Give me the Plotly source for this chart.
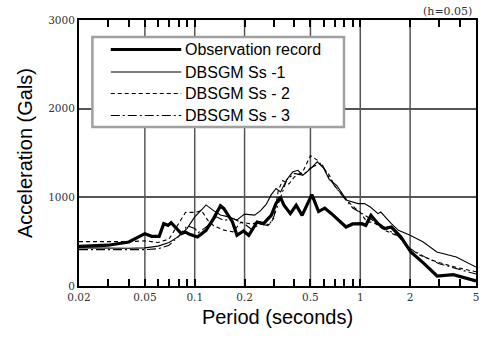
import plotly.graph_objects as go
import numpy as np

# ---------------- data ----------------
obs_T = [0.02, 0.03, 0.04, 0.05, 0.055, 0.061, 0.065, 0.069, 0.072, 0.076, 0.083, 0.088,
         0.093, 0.104, 0.117, 0.13, 0.143, 0.15, 0.169, 0.18, 0.197, 0.212, 0.238, 0.26,
         0.29, 0.31, 0.33, 0.346, 0.378, 0.41, 0.445, 0.51, 0.56, 0.61, 0.67, 0.82, 0.9,
         1.02, 1.08, 1.16, 1.28, 1.4, 1.54, 1.76, 2.02, 2.43, 2.91, 3.65, 4.2, 5.0]
obs_A = [448, 460, 496, 590, 560, 560, 703, 684, 714, 665, 590, 609,
         583, 552, 628, 760, 905, 872, 722, 572, 620, 572, 722, 703,
         797, 932, 1000, 910, 816, 910, 797, 1030, 840, 879, 816, 665, 700,
         703, 684, 797, 703, 647, 665, 552, 383, 253, 113, 128, 95, 56]

ss1_T = [0.02, 0.03, 0.04, 0.05, 0.06, 0.07, 0.08, 0.09, 0.1, 0.11, 0.117, 0.13, 0.143,
         0.16, 0.18, 0.2, 0.23, 0.25, 0.27, 0.29, 0.31, 0.33, 0.36, 0.39, 0.42, 0.45,
         0.5, 0.55, 0.6, 0.65, 0.72, 0.83, 0.97, 1.06, 1.15, 1.28, 1.33, 1.54, 1.7, 2.0,
         2.4, 2.9, 3.8, 5.0]
ss1_A = [430, 425, 425, 430, 450, 490, 560, 650, 780, 860, 915, 850, 800,
         780, 745, 810, 800, 850, 920, 1030, 1100, 1060, 1200, 1285, 1305, 1250,
         1320, 1400, 1330, 1200, 1135, 966, 929, 929, 891, 816, 834, 703, 628, 572,
         496, 383, 327, 214]

ss2_T = [0.02, 0.04, 0.05, 0.06, 0.07, 0.08, 0.088, 0.1, 0.11, 0.12, 0.13, 0.15, 0.17,
         0.19, 0.22, 0.25, 0.28, 0.3, 0.32, 0.34, 0.37, 0.4, 0.45, 0.5, 0.55, 0.6, 0.65,
         0.7, 0.8, 0.9, 1.0, 1.1, 1.2, 1.4, 1.7, 2.0, 2.3, 2.9, 3.8, 5.0]
ss2_A = [500, 500, 510, 490, 530, 700, 830, 830, 850, 740, 680, 630, 610,
         720, 700, 720, 690, 760, 1080, 1190, 1150, 1230, 1290, 1470, 1420, 1330, 1250,
         1130, 1000, 900, 830, 720, 720, 630, 560, 420, 346, 271, 210, 160]

ss3_T = [0.02, 0.04, 0.05, 0.06, 0.07, 0.08, 0.09, 0.1, 0.105, 0.12, 0.135, 0.15, 0.17,
         0.2, 0.22, 0.25, 0.28, 0.3, 0.33, 0.36, 0.4, 0.45, 0.5, 0.58, 0.65, 0.7, 0.8,
         0.9, 1.0, 1.2, 1.4, 1.7, 2.0, 2.5, 3.0, 4.0, 5.0]
ss3_A = [410, 410, 410, 420, 460, 560, 680, 650, 600, 680, 780, 740, 760,
         700, 640, 700, 680, 780, 1000, 1200, 1270, 1250, 1330, 1390, 1220, 1130, 990,
         880, 830, 740, 660, 560, 420, 320, 250, 190, 135]

legend_names = ["Observation record", "DBSGM Ss -1", "DBSGM Ss - 2", "DBSGM Ss - 3"]
x_ticks = [0.02, 0.05, 0.1, 0.2, 0.5, 1, 2, 5]
x_ticktext = ["0.02", "0.05", "0.1", "0.2", "0.5", "1", "2", "5"]
x_minor = [0.03, 0.04, 0.06, 0.07, 0.08, 0.09, 0.3, 0.4, 0.6, 0.7, 0.8, 0.9, 3, 4]
y_ticks = [0, 1000, 2000, 3000]

all_tickvals = x_ticks + x_minor
all_ticktext = x_ticktext + [""] * len(x_minor)

series = [
    (obs_T, obs_A, dict(color="black", width=3.2, dash="solid")),
    (ss1_T, ss1_A, dict(color="black", width=1.1, dash="solid")),
    (ss2_T, ss2_A, dict(color="black", width=1.1, dash="4px,3px")),
    (ss3_T, ss3_A, dict(color="black", width=1.1, dash="9px,3px,2px,3px")),
]

fig = go.Figure()
for (T, A, ln), name in zip(series, legend_names):
    fig.add_trace(go.Scatter(x=T, y=A, mode="lines", line=ln, name=name,
                             showlegend=False))

# vertical grid lines at the labelled periods (paper coords from the log scale)
xmin, xmax = np.log10(x_ticks[0]), np.log10(x_ticks[-1])
for v in x_ticks[1:-1]:
    xp = (np.log10(v) - xmin) / (xmax - xmin)
    fig.add_shape(type="line", xref="paper", yref="paper", x0=xp, x1=xp, y0=0, y1=1,
                  line=dict(color="#555", width=1.5), layer="below")

# ---------------- manual legend (paper coords) ----------------
L, R, TOP, BOT = 79, 479, 20, 286
def px(x):
    return (x - L) / (R - L)
def py(y):
    return (BOT - y) / (BOT - TOP)

fig.add_shape(type="rect", xref="paper", yref="paper",
              x0=px(92.5), x1=px(346), y0=py(37), y1=py(127),
              line=dict(color="#a0a0a0", width=2.5), fillcolor="white", layer="above")
rows = [49.5, 72, 93.5, 115.5]
for (T, A, ln), name, ry in zip(series, legend_names, rows):
    fig.add_shape(type="line", xref="paper", yref="paper",
                  x0=px(111), x1=px(182), y0=py(ry), y1=py(ry),
                  line=ln, layer="above")
    fig.add_annotation(xref="paper", yref="paper", x=px(184), y=py(ry),
                       text=name, showarrow=False, xanchor="left", yanchor="middle",
                       font=dict(family="Liberation Sans, Arial", size=16, color="black"))

fig.add_annotation(xref="paper", yref="paper", x=px(477), y=py(11),
                   text="(h=0.05)", showarrow=False, xanchor="right", yanchor="middle",
                   font=dict(family="DejaVu Serif", size=11, color="#333"))

fig.update_layout(
    width=488, height=338,
    margin=dict(l=79, r=9, t=20, b=52),
    paper_bgcolor="white", plot_bgcolor="white",
    showlegend=False,
)
fig.update_xaxes(
    type="log", range=[xmin, xmax],
    tickmode="array", tickvals=all_tickvals, ticktext=all_ticktext,
    ticks="inside", ticklen=7, tickwidth=1.5, tickcolor="black",
    showgrid=False,
    showline=True, linecolor="black", linewidth=2, mirror="allticks",
    tickfont=dict(family="DejaVu Serif", size=10.5, color="#333"),
    title=dict(text="Period (seconds)", standoff=8,
               font=dict(family="Liberation Sans, Arial", size=20, color="black")),
    zeroline=False,
)
fig.update_yaxes(
    range=[0, 3000], tickvals=y_ticks,
    ticks="", showgrid=True, gridcolor="#555", gridwidth=1.5,
    showline=True, linecolor="black", linewidth=2, mirror=True,
    tickfont=dict(family="DejaVu Serif", size=10.5, color="#333"),
    title=dict(text="Acceleration (Gals)", standoff=10,
               font=dict(family="Liberation Sans, Arial", size=20, color="black")),
    zeroline=False,
)

fig.write_html("out.html")
